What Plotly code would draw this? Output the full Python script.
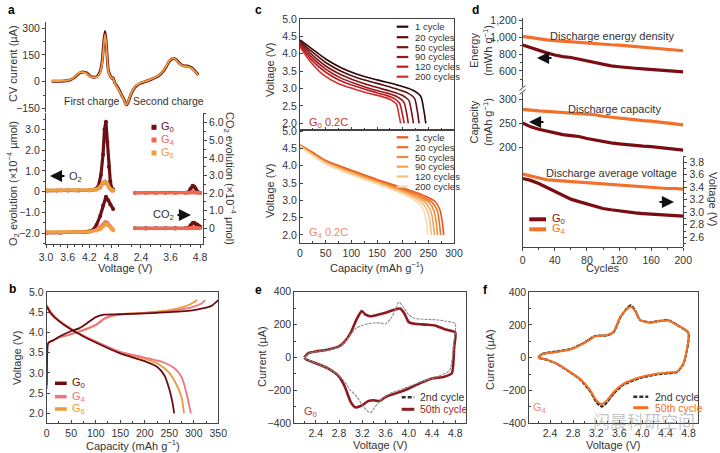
import plotly.graph_objects as go

W, H = 720, 453
FONT = "Liberation Sans, Arial, Helvetica, sans-serif"

# ---------------- DATA ----------------
# colours per material
C_G0 = "#6e0f14"
C_G4 = "#f06a52"
C_G6 = "#eea040"

# (a) top: CV current vs sweep progress (% of the whole charge/discharge/charge sweep)
cv_sweep = [3.6, 8.9, 13.2, 16.6, 19.6, 21.7, 23.8, 26.1, 28.0, 30.1, 32.5, 34.4, 35.7, 36.6, 37.6, 38.5,
            39.2, 39.7, 40.8, 41.8, 42.7, 43.9, 45.2, 47.1, 48.4, 49.7, 50.6, 51.4, 52.2, 53.5, 55.6, 57.3,
            59.9, 63.1, 66.2, 69.4, 72.6, 75.2, 77.9, 79.6, 81.1, 82.8, 85.4, 87.3, 89.6, 91.1, 92.8, 94.9, 97.0]
cv_current_g0 = [3, 3, 5, 15, 35, 50, 55, 48, 32, 25, 30, 55, 110, 200, 282, 200, 110, 65, 35, 20, 22, -8, -25,
                 -55, -80, -100, -122, -130, -118, -85, -45, -25, -10, 0, 10, 22, 40, 65, 105, 125, 130, 125,
                 100, 90, 88, 85, 78, 60, 38]
cv_current_g6 = [4, 4, 6, 17, 38, 52, 53, 45, 30, 24, 28, 50, 100, 185, 265, 190, 105, 60, 33, 20, 20, -10, -28,
                 -58, -82, -103, -125, -128, -115, -82, -42, -22, -8, 2, 12, 24, 42, 68, 108, 128, 132, 122,
                 98, 88, 86, 82, 75, 58, 36]

# (a) bottom: gas evolution, first charge (3.0-4.8 V)
a1_v_g0 = [3.0, 3.3, 3.6, 3.9, 4.2, 4.35, 4.45, 4.52, 4.58, 4.62, 4.66, 4.7, 4.74, 4.78, 4.82, 4.86]
a1_o2_g0 = [0.05, 0.05, 0.06, 0.05, 0.08, 0.1, 0.25, 0.8, 1.8, 3.0, 3.38, 2.4, 1.2, 0.5, 0.15, 0.1]
a1_v_g46 = [3.0, 3.4, 3.8, 4.2, 4.4, 4.5, 4.58, 4.64, 4.7, 4.76, 4.82, 4.86]
a1_o2_g4 = [0.05, 0.05, 0.06, 0.06, 0.1, 0.2, 0.4, 0.45, 0.35, 0.15, 0.05, 0.05]
a1_o2_g6 = [0.08, 0.07, 0.08, 0.08, 0.12, 0.25, 0.45, 0.5, 0.38, 0.18, 0.08, 0.06]
a1_co2_v_g0 = [3.0, 3.4, 3.8, 4.1, 4.3, 4.4, 4.5, 4.58, 4.66, 4.72, 4.78, 4.86]
a1_co2_g0 = [-0.25, -0.25, -0.2, -0.2, -0.1, 0.2, 0.7, 1.3, 1.8, 1.6, 1.35, 1.1]
a1_co2_g4 = [-0.25, -0.25, -0.22, -0.2, -0.1, 0.05, 0.2, 0.35, 0.3, 0.15, 0.0, -0.1]
a1_co2_g6 = [-0.2, -0.22, -0.2, -0.18, -0.12, -0.05, 0.1, 0.25, 0.2, 0.1, -0.05, -0.1]
# (a) bottom: gas evolution, second charge
a2_v = [2.16, 2.6, 3.0, 3.4, 3.8, 4.2, 4.32, 4.42, 4.5, 4.56, 4.62, 4.7, 4.8]
a2_o2_g0 = [-0.05, -0.05, -0.05, -0.05, -0.05, -0.05, -0.03, 0.15, 0.28, 0.25, 0.15, 0.0, -0.05]
a2_o2_g4 = [-0.05, -0.06, -0.05, -0.05, -0.06, -0.05, -0.05, -0.04, -0.02, -0.03, -0.05, -0.05, -0.05]
a2_co2_g0 = [0.0, 0.0, 0.0, 0.0, 0.0, 0.0, 0.02, 0.18, 0.3, 0.32, 0.25, 0.2, 0.1]
a2_co2_g4 = [0.0, -0.02, 0.0, 0.0, -0.02, 0.0, 0.0, 0.02, 0.03, 0.03, 0.02, 0.0, 0.0]

# (b) first-cycle charge / discharge profiles
b_chg_cap_g0 = [0, 0.5, 1, 2, 5, 11, 26, 49, 66, 78, 100, 117, 150, 200, 250, 300, 320, 335, 350]
b_chg_v_g0 = [2.7, 3.2, 3.5, 3.7, 3.76, 3.79, 3.9, 4.03, 4.1, 4.19, 4.38, 4.44, 4.45, 4.47, 4.5, 4.55, 4.6, 4.65, 4.8]
b_chg_cap_g4 = [0, 0.5, 1, 2, 5, 11, 26, 50, 70, 100, 120, 150, 200, 250, 280, 300, 315, 323]
b_chg_v_g4 = [2.6, 3.2, 3.5, 3.7, 3.76, 3.79, 3.88, 3.96, 4.04, 4.19, 4.36, 4.45, 4.48, 4.52, 4.58, 4.64, 4.71, 4.8]
b_chg_cap_g6 = [0, 0.5, 1, 2, 5, 11, 26, 50, 70, 100, 120, 150, 200, 250, 280, 295, 307]
b_chg_v_g6 = [2.6, 3.2, 3.5, 3.7, 3.76, 3.79, 3.88, 3.96, 4.03, 4.18, 4.35, 4.45, 4.49, 4.55, 4.64, 4.71, 4.8]
b_dis_cap_g0 = [0, 10, 25, 50, 75, 100, 150, 200, 225, 240, 250, 256, 260]
b_dis_v_g0 = [4.65, 4.45, 4.28, 4.07, 3.9, 3.75, 3.48, 3.29, 3.15, 2.94, 2.6, 2.3, 2.0]
b_dis_cap_g4 = [0, 10, 25, 50, 75, 100, 150, 200, 240, 260, 275, 285, 294]
b_dis_v_g4 = [4.68, 4.48, 4.3, 4.09, 3.92, 3.78, 3.52, 3.38, 3.25, 3.12, 2.9, 2.5, 2.0]
b_dis_cap_g6 = [0, 10, 25, 50, 75, 100, 150, 200, 230, 250, 265, 275, 280]
b_dis_v_g6 = [4.62, 4.44, 4.28, 4.07, 3.91, 3.77, 3.5, 3.35, 3.2, 3.0, 2.7, 2.4, 2.0]

# (c) discharge curves at 0.2C for selected cycles
c_cycle_labels = ["1 cycle", "20 cycles", "50 cycles", "90 cycles", "120 cycles", "200 cycles"]
c_g0_colors = ["#2d0707", "#5c0e10", "#7d1214", "#9c1719", "#bb1d1f", "#d62c2c"]
c_g4_colors = ["#e8551a", "#ec6f25", "#f08a34", "#f3a452", "#f6c07f", "#f8dbb3"]
c_g0_capacity = [
    [0, 20, 50, 80, 110, 150, 190, 220, 235, 241, 245],
    [0, 20, 50, 80, 110, 150, 185, 210, 223, 228, 232],
    [0, 20, 50, 80, 110, 145, 175, 200, 212, 217, 221],
    [0, 20, 50, 80, 110, 140, 170, 190, 202, 207, 211],
    [0, 20, 50, 80, 110, 140, 165, 183, 194, 199, 203],
    [0, 20, 45, 75, 105, 135, 160, 177, 188, 192, 196],
]
c_g0_voltage = [
    [4.4, 4.18, 3.85, 3.6, 3.42, 3.25, 3.1, 2.95, 2.78, 2.4, 2.0],
    [4.36, 4.1, 3.75, 3.5, 3.32, 3.15, 3.0, 2.87, 2.72, 2.4, 2.0],
    [4.32, 4.02, 3.65, 3.4, 3.22, 3.05, 2.93, 2.8, 2.66, 2.35, 2.0],
    [4.28, 3.94, 3.56, 3.3, 3.13, 2.98, 2.87, 2.76, 2.62, 2.35, 2.0],
    [4.25, 3.86, 3.47, 3.22, 3.06, 2.92, 2.82, 2.72, 2.58, 2.3, 2.0],
    [4.2, 3.78, 3.4, 3.14, 2.99, 2.86, 2.77, 2.68, 2.55, 2.3, 2.0],
]
c_g4_capacity = [
    [0, 25, 50, 100, 150, 200, 240, 262, 272, 277, 280],
    [0, 25, 50, 100, 150, 198, 236, 257, 267, 271, 274],
    [0, 25, 50, 100, 150, 196, 232, 252, 261, 265, 268],
    [0, 25, 50, 100, 150, 194, 228, 246, 255, 259, 262],
    [0, 25, 50, 100, 150, 192, 224, 240, 249, 253, 256],
    [0, 25, 50, 100, 150, 190, 220, 234, 243, 246, 249],
]
c_g4_voltage = [
    [4.6, 4.38, 4.15, 3.87, 3.6, 3.36, 3.15, 2.98, 2.75, 2.4, 2.0],
    [4.59, 4.36, 4.13, 3.84, 3.57, 3.33, 3.12, 2.95, 2.72, 2.4, 2.0],
    [4.58, 4.34, 4.11, 3.82, 3.55, 3.31, 3.1, 2.93, 2.7, 2.4, 2.0],
    [4.57, 4.32, 4.09, 3.8, 3.53, 3.29, 3.08, 2.91, 2.68, 2.4, 2.0],
    [4.56, 4.3, 4.07, 3.77, 3.5, 3.27, 3.06, 2.89, 2.66, 2.4, 2.0],
    [4.55, 4.28, 4.05, 3.74, 3.47, 3.25, 3.04, 2.87, 2.64, 2.4, 2.0],
]

# (d) cycling
d_cycles = [0, 10, 20, 30, 40, 50, 60, 70, 80, 90, 100, 110, 120, 130, 140, 150, 160, 170, 180, 190, 200]
d_energy_g0 = [908, 875, 850, 815, 790, 770, 760, 740, 712, 695, 672, 660, 650, 645, 632, 625, 619, 610, 600, 595, 590]
d_energy_g4 = [1012, 995, 985, 970, 960, 952, 945, 940, 936, 928, 920, 912, 908, 900, 890, 880, 870, 862, 855, 848, 840]
d_capacity_g0 = [251, 243, 238, 234, 230, 227, 225, 223, 219, 216, 212, 210, 208, 206, 204, 203, 202, 200, 198, 196, 195]
d_capacity_g4 = [279, 277, 276, 275, 274, 273, 272, 271, 270, 268, 265, 263, 261, 259, 258, 256, 255, 253, 251, 249, 247]
d_voltage_g0 = [3.54, 3.51, 3.46, 3.40, 3.33, 3.27, 3.21, 3.17, 3.13, 3.09, 3.06, 3.04, 3.02, 3.0, 2.99, 2.98, 2.97, 2.96, 2.95, 2.94, 2.94]
d_voltage_g4 = [3.61, 3.58, 3.55, 3.52, 3.51, 3.5, 3.49, 3.48, 3.47, 3.46, 3.45, 3.44, 3.43, 3.42, 3.42, 3.41, 3.40, 3.39, 3.38, 3.38, 3.37]

# (e) G0 CV loops
e_v_50 = [2.2, 2.25, 2.3, 2.4, 2.6, 2.8, 2.9, 3.0, 3.1, 3.19, 3.25, 3.33, 3.45, 3.6, 3.75, 3.85, 3.92, 4.0, 4.1, 4.3,
          4.45, 4.62, 4.8,
          4.78, 4.74, 4.6, 4.4, 4.2, 4.0, 3.8, 3.6, 3.5, 3.4, 3.3, 3.2, 3.08, 3.0, 2.9, 2.8, 2.6, 2.4, 2.25, 2.2]
e_i_50 = [0, 20, 30, 37, 47, 67, 98, 150, 230, 282, 262, 251, 258, 272, 290, 298, 270, 215, 205, 200,
          195, 172, 152,
          60, -96, -118, -127, -155, -188, -215, -240, -265, -260, -265, -290, -303, -270, -178, -116, -65, -35, -15, -3]
e_v_2 = [2.2, 2.3, 2.4, 2.6, 2.8, 2.9, 3.0, 3.1, 3.2, 3.3, 3.4, 3.5, 3.6, 3.7, 3.78, 3.83, 3.9, 4.0, 4.1, 4.3,
         4.5, 4.65, 4.8,
         4.78, 4.75, 4.7, 4.5, 4.2, 3.9, 3.7, 3.6, 3.5, 3.4, 3.35, 3.3, 3.2, 3.1, 3.0, 2.9, 2.8, 2.6, 2.4, 2.2]
e_i_2 = [0, 28, 35, 45, 65, 95, 140, 180, 195, 205, 210, 210, 205, 240, 300, 338, 310, 260, 238, 232,
         228, 220, 207,
         100, 0, -80, -115, -150, -190, -215, -235, -265, -310, -335, -330, -290, -235, -200, -150, -110, -65, -35, -5]

# (f) G4 CV loops
f_v = [2.2, 2.26, 2.52, 2.75, 2.92, 3.07, 3.18, 3.38, 3.5, 3.62, 3.73, 3.8, 3.88, 3.96, 4.14, 4.3, 4.45, 4.6, 4.8,
       4.77, 4.71, 4.6, 4.45, 4.25, 3.96, 3.67, 3.5, 3.38, 3.3, 3.21, 3.1, 2.92, 2.75, 2.52, 2.34, 2.2]
f_i_50 = [0, 20, 35, 50, 75, 105, 130, 137, 158, 250, 295, 310, 281, 230, 213, 222, 226, 199, 152,
          45, -37, -85, -90, -98, -119, -160, -211, -263, -283, -263, -201, -129, -88, -37, -12, 0]
f_i_2 = [0, 22, 38, 52, 78, 108, 132, 135, 155, 245, 300, 318, 285, 228, 215, 224, 228, 200, 150,
         40, -40, -88, -95, -102, -124, -166, -220, -275, -298, -275, -208, -133, -90, -38, -12, 0]

# ---------------- HELPERS ----------------
def xd(a, b):
    return [a / W, b / W]


def yd(top, bottom):
    return [1 - bottom / H, 1 - top / H]


def px(x):
    return x / W


def py(y):
    return 1 - y / H


annotations = []
shapes = []


def text(s, x, y, size=11, color="#333", xanchor="center", angle=0):
    annotations.append(dict(text=s, x=px(x), y=py(y), xref="paper", yref="paper", showarrow=False,
                            font=dict(size=size, color=color, family=FONT), xanchor=xanchor,
                            yanchor="middle", textangle=angle))


def arrow(x_head, y, dx):
    annotations.append(dict(text="", x=px(x_head), y=py(y), xref="paper", yref="paper", ax=dx, ay=0,
                            showarrow=True, arrowhead=2, arrowsize=1.1, arrowwidth=2.2, arrowcolor="#111"))


def seg(x0, y0, x1, y1, color, width=3, dash=None):
    ln = dict(color=color, width=width)
    if dash:
        ln["dash"] = dash
    shapes.append(dict(type="line", xref="paper", yref="paper", x0=px(x0), y0=py(y0), x1=px(x1), y1=py(y1),
                       line=ln))


def square(x, y, s, color):
    shapes.append(dict(type="rect", xref="paper", yref="paper", x0=px(x - s / 2), x1=px(x + s / 2),
                       y0=py(y + s / 2), y1=py(y - s / 2), fillcolor=color, line=dict(width=0)))


AX = dict(showline=True, linecolor="#444", linewidth=1, ticks="outside", ticklen=3, tickwidth=1,
          tickcolor="#444", tickfont=dict(size=10.5, color="#333", family=FONT), showgrid=False,
          zeroline=False, automargin=False)


def A(**kw):
    d = dict(AX)
    d.update(kw)
    return d


def minor(dtick, tick0=0, ticks="outside"):
    return dict(tickmode="linear", tick0=tick0, dtick=dtick, ticks=ticks, ticklen=2, tickcolor="#444")


fig = go.Figure()


def line(x, y, xa, ya, color, width=2, dash=None, shape="spline", smoothing=0.8):
    ln = dict(color=color, width=width, shape=shape)
    if shape == "spline":
        ln["smoothing"] = smoothing
    if dash:
        ln["dash"] = dash
    fig.add_trace(go.Scatter(x=x, y=y, xaxis=xa, yaxis=ya, mode="lines", line=ln, hoverinfo="skip"))


def dots(x, y, xa, ya, color):
    fig.add_trace(go.Scatter(x=x, y=y, xaxis=xa, yaxis=ya, mode="lines+markers",
                             line=dict(color=color, width=3.2), marker=dict(color=color, size=4),
                             hoverinfo="skip"))


# ---------------- TRACES ----------------
# (a) top CV
line(cv_sweep, cv_current_g0, "x", "y", C_G0, 3.0)
line(cv_sweep, cv_current_g6, "x", "y", C_G6, 1.8)

# (a) bottom, first charge
dots(a1_co2_v_g0, a1_co2_g0, "x2", "y3", C_G0)
dots(a1_v_g46, a1_co2_g4, "x2", "y3", C_G4)
dots(a1_v_g46, a1_co2_g6, "x2", "y3", C_G6)
dots(a1_v_g0, a1_o2_g0, "x2", "y2", C_G0)
dots(a1_v_g46, a1_o2_g4, "x2", "y2", C_G4)
dots(a1_v_g46, a1_o2_g6, "x2", "y2", C_G6)
# (a) bottom, second charge
dots(a2_v, a2_co2_g0, "x3", "y3", C_G0)
dots(a2_v, a2_co2_g4, "x3", "y3", C_G4)
dots(a2_v, a2_o2_g0, "x3", "y2", C_G0)
dots(a2_v, a2_o2_g4, "x3", "y2", C_G4)

# (b)
B_G0, B_G4, B_G6 = "#6a0e14", "#ee7480", "#ea9a3a"
line(b_chg_cap_g6, b_chg_v_g6, "x4", "y4", B_G6, 1.8)
line(b_dis_cap_g6, b_dis_v_g6, "x4", "y4", B_G6, 1.8)
line(b_chg_cap_g4, b_chg_v_g4, "x4", "y4", B_G4, 1.8)
line(b_dis_cap_g4, b_dis_v_g4, "x4", "y4", B_G4, 1.8)
line(b_chg_cap_g0, b_chg_v_g0, "x4", "y4", B_G0, 1.8)
line(b_dis_cap_g0, b_dis_v_g0, "x4", "y4", B_G0, 1.8)

# (c)
for i in range(len(c_cycle_labels)):
    line(c_g0_capacity[i], c_g0_voltage[i], "x5", "y5", c_g0_colors[i], 1.6)
    line(c_g4_capacity[i], c_g4_voltage[i], "x6", "y6", c_g4_colors[i], 1.6)

# (d)
D_G0, D_G4 = "#7b0d12", "#f3702b"
for yv, ya in [((d_energy_g4, d_energy_g0), "y7"), ((d_capacity_g4, d_capacity_g0), "y8"),
               ((d_voltage_g4, d_voltage_g0), "y9")]:
    line(d_cycles, yv[0], "x7", ya, D_G4, 3.2, shape="linear")
    line(d_cycles, yv[1], "x7", ya, D_G0, 3.2, shape="linear")

# (e)
E_50, F_50, GRAY = "#8e1a1e", "#f36f21", "#8a8a8a"
line(e_v_50, e_i_50, "x8", "y10", E_50, 2.6, smoothing=0.6)
line(e_v_2, e_i_2, "x8", "y10", GRAY, 1.1, dash="3px,1px", smoothing=0.6)
# (f)
line(f_v, f_i_2, "x9", "y11", "#333333", 2.2, dash="4px,1px", smoothing=0.6)
line(f_v, f_i_50, "x9", "y11", F_50, 2.0, smoothing=0.6)

# ---------------- AXES ----------------
layout = dict(
    width=W, height=H, margin=dict(l=0, r=0, t=0, b=0, autoexpand=False), paper_bgcolor="white",
    plot_bgcolor="rgba(0,0,0,0)", showlegend=False, font=dict(family=FONT, size=11, color="#333"),
    # a top
    xaxis=dict(domain=xd(46, 203), range=[0, 100], visible=False, anchor="y", automargin=False),
    yaxis=A(domain=yd(22, 112), range=[-170, 335], tickvals=[-150, 0, 150, 300], anchor="x",
            minor=minor(75)),
    # a bottom
    xaxis2=A(domain=xd(46, 124), range=[3.0, 5.16], anchor="y2", tickvals=[3.0, 3.6, 4.2, 4.8],
             ticktext=["3.0", "3.6", "4.2", "4.8"], minor=minor(0.2, 3.0)),
    xaxis3=A(domain=xd(124, 203), range=[1.71, 4.92], anchor="y2", tickvals=[2.4, 3.6, 4.8],
             ticktext=["2.4", "3.6", "4.8"], minor=minor(0.4, 2.4)),
    yaxis2=A(domain=yd(113, 244), range=[-2.53, 3.80], anchor="x2", tickvals=[-2, -1, 0, 1, 2, 3],
             ticktext=["\u22122.0", "\u22121.0", "0", "1.0", "2.0", "3.0"], minor=minor(0.5)),
    yaxis3=A(overlaying="y2", side="right", anchor="x3", range=[-0.89, 6.55], tickvals=[0, 1, 2, 3, 4, 5, 6],
             ticktext=["0", "1.0", "2.0", "3.0", "4.0", "5.0", "6.0"], minor=minor(0.5)),
    # b
    xaxis4=A(domain=xd(46.7, 218.3), range=[0, 350], anchor="y4", dtick=50, mirror=True, ticks="inside",
             minor=minor(25, ticks="inside")),
    yaxis4=A(domain=yd(292, 423), range=[1.76, 5.0], anchor="x4", dtick=0.5, tick0=0, tickformat=".1f",
             mirror=True, ticks="inside"),
    # c
    xaxis5=A(domain=xd(300, 454), range=[0, 300], anchor="y5", dtick=50, showticklabels=False, mirror=True,
             ticks="inside", minor=minor(25, ticks="inside")),
    yaxis5=A(domain=yd(19, 130), range=[1.81, 5.0], anchor="x5", dtick=0.5, tick0=0, tickformat=".1f",
             mirror=True, ticks="inside"),
    xaxis6=A(domain=xd(300, 454), range=[0, 300], anchor="y6", dtick=50, mirror=True, ticks="inside",
             minor=minor(25, ticks="inside")),
    yaxis6=A(domain=yd(130, 243.3), range=[1.76, 5.03], anchor="x6", dtick=0.5, tick0=0, tickformat=".1f",
             mirror=True, ticks="inside"),
    # d
    xaxis7=A(domain=xd(522.7, 683.3), range=[0, 200], anchor="y8", dtick=40, minor=minor(20)),
    yaxis7=A(domain=yd(18, 87), range=[409, 1230], anchor="x7", tickvals=[600, 800, 1000, 1200],
             tickformat=",", minor=minor(100)),
    yaxis8=A(domain=yd(93, 247.3), range=[-6, 313], anchor="x7", tickvals=[200, 250, 300]),
    yaxis9=A(domain=yd(156, 247.3), range=[2.44, 3.90], anchor="x7", side="right",
             tickvals=[2.6, 2.8, 3.0, 3.2, 3.4, 3.6, 3.8], tickformat=".1f", minor=minor(0.1)),
    # e
    xaxis8=A(domain=xd(294.3, 465.7), range=[2.03, 4.98], anchor="y10", tickvals=[2.4, 2.8, 3.2, 3.6, 4.0, 4.4, 4.8],
             tickformat=".1f", mirror=True, ticks="inside", minor=minor(0.2, ticks="inside")),
    yaxis10=A(domain=yd(291.7, 423.3), range=[-400, 400], anchor="x8", dtick=200, mirror=True, ticks="inside",
              minor=minor(100, ticks="inside")),
    # f
    xaxis9=A(domain=xd(529.3, 698.3), range=[2.04, 4.97], anchor="y11", tickvals=[2.4, 2.8, 3.2, 3.6, 4.0, 4.4, 4.8],
             tickformat=".1f", mirror=True, ticks="inside", minor=minor(0.2, ticks="inside")),
    yaxis11=A(domain=yd(292, 423.3), range=[-400, 400], anchor="x9", dtick=200, mirror=True, ticks="inside",
              minor=minor(100, ticks="inside")),
)

# ---------------- TEXT, LEGENDS, MARKUP ----------------
for lab, x, y in [("a", 11, 10), ("b", 12, 289), ("c", 258, 10), ("d", 475, 10), ("e", 258, 290), ("f", 485, 290)]:
    text("<b>%s</b>" % lab, x, y, size=12, color="#000")

# (a)
text("CV current (\u00b5A)", 13, 64, angle=-90)
text("O<sub>2</sub> evolution (\u00d710<sup>\u22124</sup> \u00b5mol)", 13, 184, angle=-90)
text("CO<sub>2</sub> evolution (\u00d710<sup>\u22124</sup> \u00b5mol)", 230, 179, angle=90)
text("Voltage (V)", 125, 268)
text("First charge", 92, 101, size=10.5)
text("Second charge", 168, 101, size=10.5)
for (lbl, col, yy) in [("G<sub>0</sub>", C_G0, 127.3), ("G<sub>4</sub>", C_G4, 140), ("G<sub>6</sub>", C_G6, 153)]:
    square(154, yy, 5, col)
    text(lbl, 158.5, yy, color=col, xanchor="left")
arrow(50, 176, 16)
text("O<sub>2</sub>", 75, 177)
text("CO<sub>2</sub>", 163, 215)
arrow(191, 215, -15)

# (b)
text("Voltage (V)", 17, 358, angle=-90)
text("Capacity (mAh g<sup>\u22121</sup>)", 133, 445)
for (lbl, col, yy) in [("G<sub>0</sub>", B_G0, 383.3), ("G<sub>4</sub>", B_G4, 396.7), ("G<sub>6</sub>", B_G6, 409)]:
    seg(55, yy, 66.7, yy, col, 3.5)
    text(lbl, 70, yy, color=col, xanchor="left")

# (c)
text("Voltage (V)", 270, 70, angle=-90)
text("Voltage (V)", 270, 191, angle=-90)
text("Capacity (mAh g<sup>\u22121</sup>)", 377, 267)
top_y = [26.7, 37.2, 47.2, 57.0, 66.7, 76.7]
bot_y = [137.3, 147.2, 157.0, 166.7, 176.5, 186.5]
for i, lbl in enumerate(c_cycle_labels):
    seg(396.7, top_y[i], 408.3, top_y[i], c_g0_colors[i], 2.2)
    text(lbl, 412.5, top_y[i], size=9.5, xanchor="left")
    seg(396.7, bot_y[i], 408.3, bot_y[i], c_g4_colors[i], 2.2)
    text(lbl, 412.5, bot_y[i], size=9.5, xanchor="left")
text("G<sub>0</sub> 0.2C", 328, 123, color="#c0392b")
text("G<sub>4</sub> 0.2C", 328, 233, color="#f08a6a")

# (d)
text("Energy<br>(mWh g<sup>\u22121</sup>)", 481, 50, angle=-90)
text("Capacity<br>(mAh g<sup>\u22121</sup>)", 481, 122, angle=-90)
text("Voltage (V)", 713, 199, angle=90)
text("Cycles", 603, 268)
text("Discharge energy density", 612, 36)
text("Discharge capacity", 614, 109)
text("Discharge average voltage", 611, 173)
arrow(537, 58, 16)
arrow(529, 122, 16)
arrow(674, 202, -16)
for (lbl, col, yy) in [("G<sub>0</sub>", D_G0, 219.3), ("G<sub>4</sub>", D_G4, 229.3)]:
    seg(529.3, yy, 546, yy, col, 4)
    text(lbl, 550, yy, color=col, xanchor="left")
# axis break on left axis of (d)
shapes.append(dict(type="rect", xref="paper", yref="paper", x0=px(518), x1=px(527), y0=py(93), y1=py(87),
                   fillcolor="white", line=dict(width=0)))
seg(519.5, 90.5, 525.5, 85.5, "#444", 1)
seg(519.5, 94.5, 525.5, 89.5, "#444", 1)

# (e)
text("Current (\u00b5A)", 262, 357, angle=-90)
text("Voltage (V)", 380, 445)
seg(401.7, 397.3, 414.3, 397.3, "#333", 2.5, dash="4px,2px")
text("2nd cycle", 418.3, 397.3, size=10.5, xanchor="left")
seg(401.7, 409.3, 414.3, 409.3, E_50, 3)
text("50th cycle", 418.3, 409.3, size=10.5, color="#a51e22", xanchor="left")
text("G<sub>0</sub>", 310, 411.7, color="#b5373a")

# (f)
text("Current (\u00b5A)", 490, 360, angle=-90)
text("Voltage (V)", 613, 445)
seg(633.3, 396.7, 648.3, 396.7, "#333", 2.5, dash="4px,2px")
text("2nd cycle", 652.7, 396.7, size=10.5, xanchor="left")
seg(633.3, 407.7, 648.3, 407.7, F_50, 3)
text("50th cycle", 652.7, 407.7, size=10.5, color="#f36f21", xanchor="left")
text("G<sub>4</sub>", 540, 408, color="#f28a5c")

# watermark
annotations.append(dict(text="\u95ea\u6668\u79d1\u7814\u7a7a\u95f4", x=px(644), y=py(420), xref="paper",
                        yref="paper", showarrow=False,
                        font=dict(size=17, color="rgba(140,140,140,0.5)", family="Noto Sans CJK SC"),
                        xanchor="center", yanchor="middle"))

layout["annotations"] = annotations
layout["shapes"] = shapes
fig.update_layout(**layout)
fig.write_html("out.html", config={"displayModeBar": False},
               post_script="document.body.style.margin='0px';document.body.style.overflow='hidden';")
